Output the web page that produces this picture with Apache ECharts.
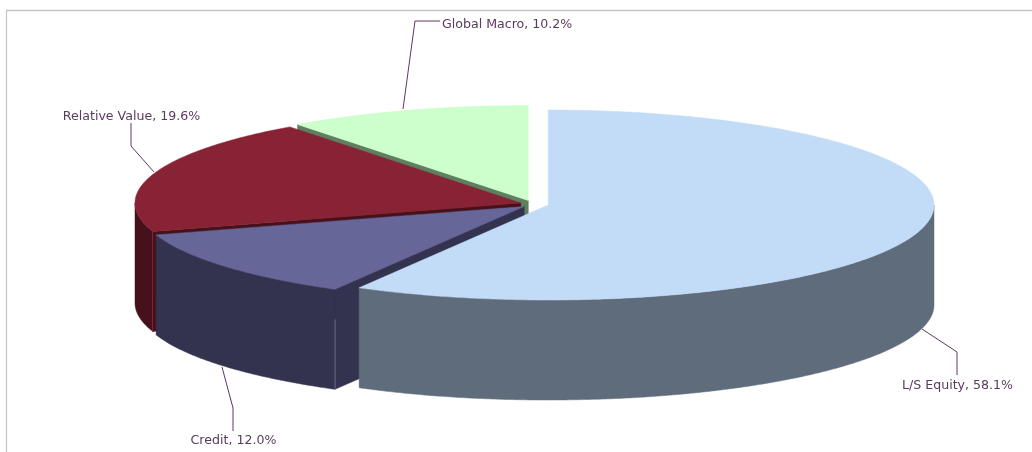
<!DOCTYPE html>
<html>
<head>
<meta charset="utf-8">
<style>html,body{margin:0;padding:0;background:#fff}#c{width:1032px;height:452px}</style>
<script src="https://cdn.jsdelivr.net/npm/echarts@6/dist/echarts.min.js"></script>
</head>
<body>
<div id="c"></div>
<script>
var categories = ['L/S Equity', 'Credit', 'Relative Value', 'Global Macro'];
var values = [58.1, 12.0, 19.6, 10.2];
var topColors = ['#C2DBF7', '#666699', '#882235', '#CCFFCC'];
var sideColors = ['#5F6C7B', '#333350', '#47111C', '#5E7F60'];
var edgeColors = [null, '#6A6A85', '#882235', null];
var edgeStart = [0, 30, 0, 0];

var explodeX = [15.3, -8.8, -12.3, -4.7];
var explodeY = [1, 2.5, -1, -3.5];

var leaders = [
  [[922, 329], [957, 352], [957, 375]],
  [[222, 367], [233, 408], [233, 431]],
  [[154, 172], [131, 146], [131, 123]],
  [[403, 109], [415, 21], [440, 21]]
];
var labelPos = [
  {x: 957.5, y: 386, align: 'center'},
  {x: 233.5, y: 441, align: 'center'},
  {x: 131.5, y: 117, align: 'center'},
  {x: 442, y: 25, align: 'left'}
];

var CX = 533, CY = 204, RX = 385.7, RY = 95, DEPTH = 100;
var total = values.reduce(function (s, v) { return s + v; }, 0);
var bounds = [], acc = 0;
values.forEach(function (v) { bounds.push([acc, acc + v / total * 360]); acc += v / total * 360; });
var rad = Math.PI / 180;

function renderItem(params, api) {
  var i = api.value(0);
  var a = bounds[i][0], b = bounds[i][1];
  var cx = CX + explodeX[i], cy = CY + explodeY[i];
  function rim(t, d) { return [cx + RX * Math.sin(t * rad), cy - RY * Math.cos(t * rad) + (d || 0)]; }
  function arc(s, e, d) {
    var pts = [], n = Math.max(2, Math.ceil(Math.abs(e - s) / 0.5));
    for (var k = 0; k <= n; k++) pts.push(rim(s + (e - s) * k / n, d));
    return pts;
  }
  var kids = [];
  function poly(points, fill) {
    kids.push({type: 'polygon', shape: {points: points}, style: {fill: fill, stroke: fill, lineWidth: 0.5}, silent: true});
  }
  function face(t) {
    var r = rim(t);
    poly([[cx, cy], r, [r[0], r[1] + DEPTH], [cx, cy + DEPTH]], sideColors[i]);
  }
  if (Math.cos((a - 90) * rad) < -1e-6) face(a);
  if (Math.cos((b + 90) * rad) < -1e-6) face(b);
  var ws = Math.max(a, 90), we = Math.min(b, 270);
  if (we > ws) poly(arc(ws, we, 0).concat(arc(we, ws, DEPTH)), sideColors[i]);
  if (edgeColors[i]) {
    var e = rim(a);
    kids.push({type: 'polyline', shape: {points: [[e[0], e[1] + edgeStart[i]], [e[0], e[1] + DEPTH]]}, style: {fill: null, stroke: edgeColors[i], lineWidth: 1}, silent: true});
  }
  poly([[cx, cy]].concat(arc(a, b, 0)), topColors[i]);
  kids.push({type: 'polyline', shape: {points: leaders[i]}, style: {fill: null, stroke: '#5A3A5E', lineWidth: 1}, silent: true});
  kids.push({type: 'text', style: {
    x: labelPos[i].x, y: labelPos[i].y,
    text: categories[i] + ', ' + values[i].toFixed(1) + '%',
    align: labelPos[i].align, verticalAlign: 'middle',
    fill: '#5A3A5E', font: '12.6px "DejaVu Sans"'
  }, silent: true});
  return {type: 'group', children: kids};
}

var chart = echarts.init(document.getElementById('c'), null, {renderer: 'canvas'});
chart.setOption({
  animation: false,
  backgroundColor: '#fff',
  graphic: [
    {type: 'line', shape: {x1: 6, y1: 10.5, x2: 1032, y2: 10.5}, style: {stroke: '#C4C4C4', lineWidth: 1.4}, z: 0},
    {type: 'line', shape: {x1: 6.5, y1: 10, x2: 6.5, y2: 452}, style: {stroke: '#C4C4C4', lineWidth: 1.2}, z: 0}
  ],
  series: [{
    type: 'custom',
    coordinateSystem: 'none',
    renderItem: renderItem,
    silent: true,
    data: [3, 2, 1, 0].map(function (i) { return [i, values[i]]; })
  }]
});
</script>
</body>
</html>
